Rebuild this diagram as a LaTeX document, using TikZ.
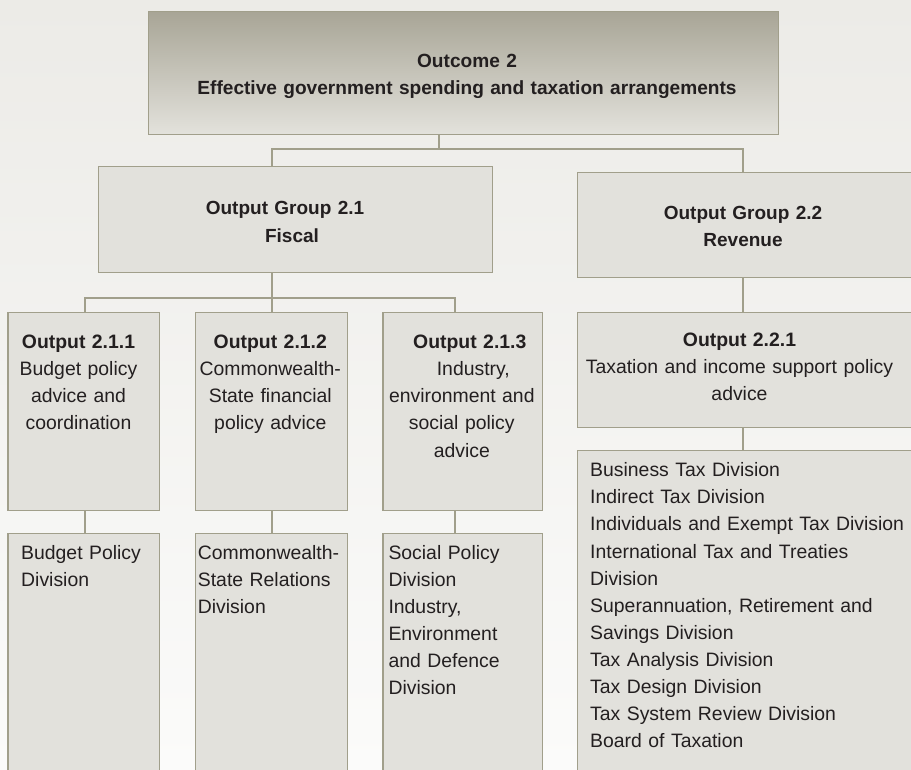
\documentclass[tikz,border=0pt]{standalone}
\usepackage{fontspec}
\setmainfont{Liberation Sans}
\definecolor{ink}{HTML}{231F20}
\definecolor{boxfill}{HTML}{E2E1DC}
\definecolor{edge}{HTML}{A19F8B}
\definecolor{headtop}{HTML}{A8A596}
\definecolor{headbot}{HTML}{E3E2DC}
\definecolor{bgtop}{HTML}{ECEBE7}
\definecolor{bgmid}{HTML}{F6F6F3}
\definecolor{bgbot}{HTML}{FBFBFA}
\tikzset{
  box/.style={draw=edge, fill=boxfill, line width=1.4pt, inner sep=0pt,
    anchor=north west, minimum width=#1},
  link/.style={draw=edge, line width=1.3pt},
  ctext/.style={inner sep=0pt, text=ink, align=center, text width=340pt,
    anchor=base, font=\fontsize{19.4}{27.2}\selectfont},
  ltext/.style={inner sep=0pt, text=ink, align=left, text width=330pt,
    anchor=base west, font=\fontsize{19.4}{27.1}\selectfont},
}
\begin{document}
\begin{tikzpicture}[x=1pt, y=-1pt]
  \useasboundingbox (0,0) rectangle (911,769);
  \clip (0,0) rectangle (911,769);
  % page background
  \shade[top color=bgtop, middle color=bgmid, bottom color=bgbot]
    (0,0) rectangle (911,769);

  % columns where the connectors drop
  \coordinate (xa) at (85,0);
  \coordinate (xb) at (272,0);
  \coordinate (xc) at (455,0);
  \coordinate (xd) at (743,0);
  \coordinate (xe) at (439,0);
  \coordinate (j0) at (439,149);
  \coordinate (j1) at (272,298);

  % boxes
  \node[box=630pt, minimum height=123.5pt, top color=headtop, bottom color=headbot]
    (top) at (148,10.5) {};
  \node[box=394.3pt, minimum height=105.7pt] (og21) at (97.7,166) {};
  \node[box=360pt, minimum height=105pt] (og22) at (576.7,172) {};
  \node[box=151.7pt, minimum height=198pt] (o211) at (7.3,312) {};
  \node[box=152pt, minimum height=198pt] (o212) at (194.7,312) {};
  \node[box=159.4pt, minimum height=198pt] (o213) at (382.3,312) {};
  \node[box=360pt, minimum height=114.7pt] (o221) at (576.7,312) {};
  \node[box=151.7pt, minimum height=260pt] (d211) at (7.3,532.7) {};
  \node[box=152pt, minimum height=260pt] (d212) at (194.7,532.7) {};
  \node[box=159.4pt, minimum height=260pt] (d213) at (382.3,532.7) {};
  \node[box=360pt, minimum height=340pt] (d221) at (576.7,450) {};

  % connectors
  \draw[link] (top.south -| xe) -- (j0);
  \draw[link] (og21.north -| xb) |- (j0) -| (og22.north -| xd);
  \draw[link] (og21.south -| xb) -- (j1);
  \draw[link] (o211.north -| xa) |- (j1) -| (o213.north -| xc);
  \draw[link] (j1) -- (o212.north -| xb);
  \draw[link] (og22.south -| xd) -- (o221.north -| xd);
  \draw[link] (o211.south -| xa) -- (d211.north -| xa);
  \draw[link] (o212.south -| xb) -- (d212.north -| xb);
  \draw[link] (o213.south -| xc) -- (d213.north -| xc);
  \draw[link] (o221.south -| xd) -- (d221.north -| xd);

  % headings
  \node[ctext, text width=600pt, font=\bfseries\fontsize{19.1}{26.3}\selectfont]
    (ttop) at (467,67.7) {Outcome 2\\Effective government spending and taxation arrangements};
  \node[ctext, font=\bfseries\fontsize{19}{27.7}\selectfont] (tog21) at (292,214.3)
    {\hspace*{-14pt}Output Group 2.1\\Fiscal};
  \node[ctext, font=\bfseries\fontsize{19}{27.4}\selectfont] (tog22) at (743,219.3)
    {Output Group 2.2\\Revenue};

  % outputs
  \node[ctext] (t211) at (78.5,348.3)
    {\textbf{Output 2.1.1}\\Budget policy\\advice and\\coordination};
  \node[ctext] (t212) at (270.3,348.3)
    {\textbf{Output 2.1.2}\\Commonwealth-\\State financial\\policy advice};
  \node[ctext] (t213) at (461.8,348.3)
    {\hspace*{16pt}\textbf{Output 2.1.3}\\\hspace*{23pt}Industry,\\environment and\\social policy\\advice};
  \node[ctext, font=\fontsize{19.4}{26.8}\selectfont] (t221) at (739.5,346.7)
    {\textbf{Output 2.2.1}\\Taxation and income support policy\\advice};

  % divisions
  \node[ltext] (l211) at (21,559.3) {Budget Policy\\Division};
  \node[ltext] (l212) at (197.7,559.3) {Commonwealth-\\State Relations\\Division};
  \node[ltext] (l213) at (388.3,559.3)
    {Social Policy\\Division\\Industry,\\Environment\\and Defence\\Division};
  \node[ltext] (l221) at (590,476.7)
    {Business Tax Division\\Indirect Tax Division\\Individuals and Exempt Tax Division\\International Tax and Treaties\\Division\\Superannuation, Retirement and\\Savings Division\\Tax Analysis Division\\Tax Design Division\\Tax System Review Division\\Board of Taxation};
\end{tikzpicture}
\end{document}
